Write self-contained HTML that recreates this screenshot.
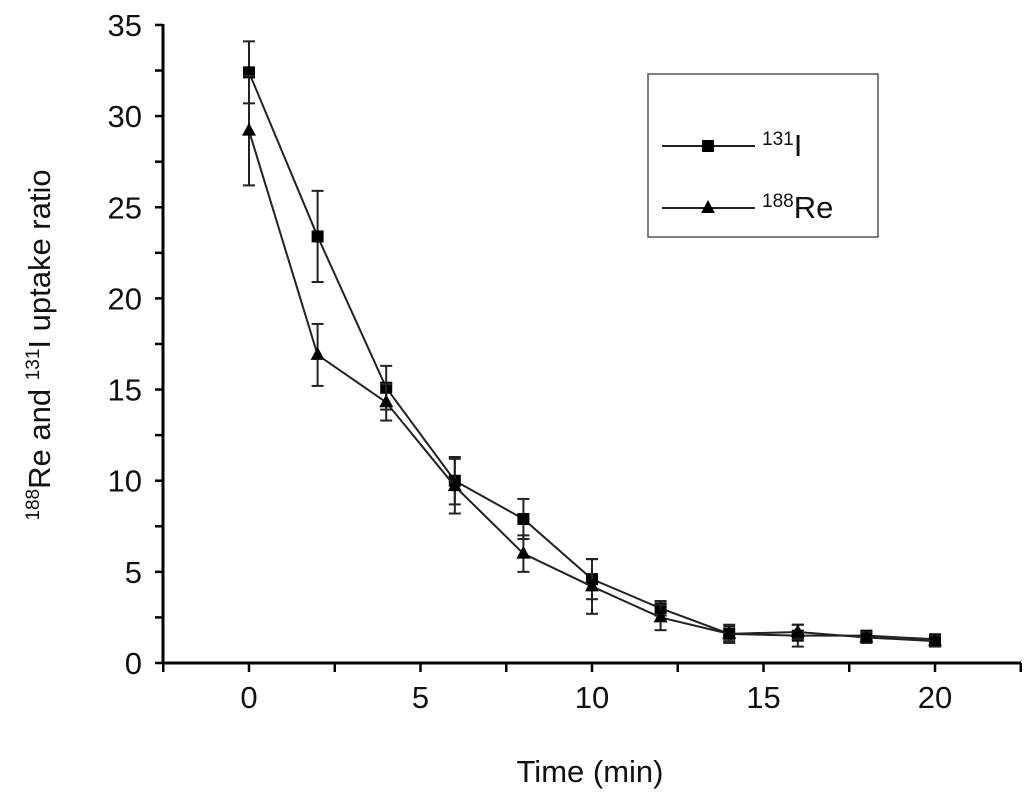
<!DOCTYPE html>
<html><head><meta charset="utf-8"><style>
body{margin:0;background:#fff}
svg text{font-family:"Liberation Sans",sans-serif;fill:#111}
</style></head><body>
<svg width="1035" height="805" viewBox="0 0 1035 805">
<g id="plot"></g>
</svg>
<script>
const times=[0,2,4,6,8,10,12,14,16,18,20];
const iodine=[32.4,23.4,15.1,10.0,7.9,4.6,3.0,1.6,1.5,1.5,1.3];
const iodineErr=[1.7,2.5,1.2,1.3,1.1,1.1,0.4,0.5,0.6,0.2,0.2];
const rhenium=[29.2,16.9,14.3,9.7,6.0,4.2,2.5,1.6,1.7,1.4,1.2];
const rheniumErr=[3.0,1.7,1.0,1.5,1.0,1.5,0.7,0.4,0.4,0.3,0.3];
const yTicks=[0,5,10,15,20,25,30,35];
const xTicks=[0,5,10,15,20];
const NS="http://www.w3.org/2000/svg";
const g=document.getElementById('plot');
const X=v=>249+(v)*34.3;
const Y=v=>663-v*18.23;
function mk(t,a,p){const e=document.createElementNS(NS,t);for(const k in a)e.setAttribute(k,a[k]);(p||g).appendChild(e);return e;}
// axes
let ax=mk('line',{x1:163,y1:663,x2:1021,y2:663,stroke:'#000','stroke-width':3});


let ay=mk('line',{x1:163,y1:24,x2:163,y2:664,stroke:'#000','stroke-width':3});


for(let v=0;v<=35;v+=2.5){mk('line',{x1:155,y1:Y(v),x2:163,y2:Y(v),stroke:'#000','stroke-width':2.5});}
for(let v=-2.5;v<=22.5;v+=2.5){mk('line',{x1:X(v),y1:663,x2:X(v),y2:672,stroke:'#000','stroke-width':2.5});}
yTicks.forEach(v=>{const t=mk('text',{x:142,y:Y(v)+11,'text-anchor':'end','font-size':31});t.textContent=v;

});
xTicks.forEach(v=>{const t=mk('text',{x:X(v),y:708,'text-anchor':'middle','font-size':31});t.textContent=v;

});
const xt=mk('text',{x:590,y:782,'text-anchor':'middle','font-size':31});xt.textContent='Time (min)';


const yt=mk('text',{x:0,y:0,'text-anchor':'middle','font-size':31,transform:'translate(50,345) rotate(-90)'});
yt.innerHTML='<tspan font-size="19" dy="-11">188</tspan><tspan dy="11">Re and </tspan><tspan font-size="19" dy="-11">131</tspan><tspan dy="11">I uptake ratio</tspan>';


function series(vals,errs,shape,name){
  const sg=mk('g',{});
  
  
  mk('polyline',{points:times.map((t,i)=>X(t)+','+Y(vals[i])).join(' '),fill:'none',stroke:'#222','stroke-width':2},sg);
  times.forEach((t,i)=>{
    const x=X(t),y1=Y(vals[i]+errs[i]),y2=Y(vals[i]-errs[i]);
    mk('line',{x1:x,y1:y1,x2:x,y2:y2,stroke:'#222','stroke-width':2},sg);
    mk('line',{x1:x-6,y1:y1,x2:x+6,y2:y1,stroke:'#222','stroke-width':2},sg);
    mk('line',{x1:x-6,y1:y2,x2:x+6,y2:y2,stroke:'#222','stroke-width':2},sg);
    const y=Y(vals[i]);
    if(shape==='sq') mk('rect',{x:x-6,y:y-6,width:12,height:12,fill:'#000'},sg);
    else mk('polygon',{points:`${x},${y-8} ${x-7},${y+5} ${x+7},${y+5}`,fill:'#000'},sg);
  });
}
series(iodine,iodineErr,'sq','series-131i');
series(rhenium,rheniumErr,'tri','series-188re');
// legend
const lg=mk('g',{});


mk('rect',{x:648,y:74,width:230,height:163,fill:'#fff',stroke:'#555','stroke-width':1.5},lg);
mk('line',{x1:662,y1:146,x2:755,y2:146,stroke:'#222','stroke-width':2},lg);
mk('rect',{x:702,y:140,width:12,height:12,fill:'#000'},lg);
let l1=mk('text',{x:762,y:156,'font-size':31},lg);l1.innerHTML='<tspan font-size="19" dy="-11">131</tspan><tspan dy="11">I</tspan>';
mk('line',{x1:662,y1:208,x2:755,y2:208,stroke:'#222','stroke-width':2},lg);
mk('polygon',{points:'708,200 701,213 715,213',fill:'#000'},lg);
let l2=mk('text',{x:762,y:218,'font-size':31},lg);l2.innerHTML='<tspan font-size="19" dy="-11">188</tspan><tspan dy="11">Re</tspan>';
</script>
</body></html>
